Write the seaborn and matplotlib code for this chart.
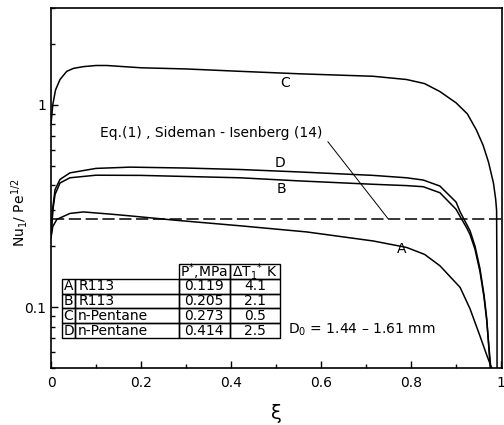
import matplotlib
matplotlib.use("Agg")
import matplotlib.pyplot as plt
import seaborn as sns
import pandas as pd
import numpy as np
from matplotlib.ticker import FixedLocator, LogLocator, NullFormatter, MultipleLocator

# ---------------- data ----------------
xi_A = [0.0, 0.004, 0.013, 0.042, 0.072, 0.138, 0.176, 0.272, 0.42, 0.568, 0.716, 0.79, 0.83, 0.864,
        0.909, 0.931, 0.953, 0.968, 0.979]
nu_A = [0.22, 0.25, 0.271, 0.29, 0.295, 0.287, 0.282, 0.269, 0.252, 0.235, 0.212, 0.197, 0.182, 0.16,
        0.125, 0.098, 0.072, 0.058, 0.05]

xi_B = [0.0, 0.004, 0.009, 0.02, 0.042, 0.1, 0.2, 0.42, 0.55, 0.716, 0.79, 0.827, 0.864, 0.9, 0.909,
        0.924, 0.931, 0.942, 0.953, 0.962, 0.968, 0.977]
nu_B = [0.22, 0.3, 0.36, 0.41, 0.435, 0.448, 0.447, 0.435, 0.42, 0.404, 0.398, 0.393, 0.367, 0.304, 0.28,
        0.245, 0.228, 0.193, 0.15, 0.112, 0.086, 0.05]

xi_C = [0.0, 0.004, 0.01, 0.02, 0.035, 0.05, 0.072, 0.1, 0.124, 0.2, 0.3, 0.42, 0.55, 0.716, 0.79, 0.83,
        0.864, 0.9, 0.925, 0.945, 0.96, 0.972, 0.983, 0.988, 0.990, 0.991, 0.991]
nu_C = [0.8, 1.0, 1.18, 1.33, 1.46, 1.51, 1.54, 1.56, 1.56, 1.52, 1.5, 1.46, 1.42, 1.38, 1.33, 1.27,
        1.16, 1.02, 0.90, 0.75, 0.63, 0.52, 0.41, 0.34, 0.30, 0.1, 0.05]

xi_D = [0.0, 0.004, 0.009, 0.02, 0.042, 0.1, 0.176, 0.3, 0.42, 0.55, 0.716, 0.79, 0.827, 0.864, 0.9,
        0.909, 0.924, 0.931, 0.942, 0.953, 0.962, 0.968, 0.976]
nu_D = [0.22, 0.31, 0.38, 0.427, 0.46, 0.484, 0.491, 0.486, 0.478, 0.465, 0.447, 0.435, 0.424, 0.396, 0.33,
        0.295, 0.255, 0.238, 0.2, 0.155, 0.115, 0.088, 0.05]

xi_eq = [0.003, 1.0]
nu_eq = [0.273, 0.273]

runs = ["A", "B", "C", "D"]
fluids = ["R113", "R113", "n-Pentane", "n-Pentane"]
pressures = ["0.119", "0.205", "0.273", "0.414"]
delta_T = ["4.1", "2.1", "0.5", "2.5"]

x_ticks = [0, 0.2, 0.4, 0.6, 0.8, 1.0]
x_tick_labels = ["0", "0.2", "0.4", "0.6", "0.8", "1"]
y_ticks = [0.1, 1]
y_tick_labels = ["0.1", "1"]

# ---------------- style ----------------
sns.set_theme(style="ticks")
plt.rcParams["font.family"] = ["DejaVu Sans"]
plt.rcParams["mathtext.fontset"] = "dejavusans"
plt.rcParams["text.color"] = "black"
plt.rcParams["axes.labelcolor"] = "black"
plt.rcParams["xtick.color"] = "black"
plt.rcParams["ytick.color"] = "black"

fig = plt.figure(figsize=(5.04, 4.25), dpi=100)
ax = fig.add_axes([51 / 504, 1 - 368 / 425, 451 / 504, 360 / 425])

frames = []
for name, xs, ys in [("A", xi_A, nu_A), ("B", xi_B, nu_B), ("C", xi_C, nu_C), ("D", xi_D, nu_D)]:
    frames.append(pd.DataFrame({"xi": xs, "nu": ys, "run": name}))
df = pd.concat(frames, ignore_index=True)

sns.lineplot(data=df, x="xi", y="nu", units="run", estimator=None, sort=False,
             color="black", linewidth=1.1, ax=ax, legend=False)

df_eq = pd.DataFrame({"xi": xi_eq, "nu": nu_eq})
sns.lineplot(data=df_eq, x="xi", y="nu", color="black", linewidth=1.1, ax=ax, legend=False)
ax.lines[-1].set_dashes([8, 3])

ax.set_yscale("log")
ax.set_xlim(0, 1.002)
ax.set_ylim(0.05, 3.0)

ax.yaxis.set_major_locator(FixedLocator(y_ticks))
ax.set_yticklabels(y_tick_labels)
ax.yaxis.set_minor_locator(LogLocator(base=10, subs=np.arange(2, 10)))
ax.yaxis.set_minor_formatter(NullFormatter())
ax.set_xticks(x_ticks)
ax.set_xticklabels(x_tick_labels)
ax.xaxis.set_minor_locator(MultipleLocator(0.1))

ax.tick_params(which="both", direction="in", color="black", labelsize=10, labelcolor="black")
ax.tick_params(which="major", length=5, width=1)
ax.tick_params(which="minor", length=3, width=1)
ax.tick_params(axis="x", pad=6)
for s in ax.spines.values():
    s.set_color("black")
    s.set_linewidth(1.2)

ax.set_xlabel("ξ", fontsize=14, labelpad=10, color="black")
ax.set_ylabel(r"Nu$_1$/ Pe$^{1/2}$", fontsize=10, color="black")
ax.yaxis.set_label_coords(-0.047, 0.43)

# curve labels
ax.text(0.52, 1.28, "C", fontsize=10, ha="center", va="center")
ax.text(0.509, 0.512, "D", fontsize=10, ha="center", va="center")
ax.text(0.513, 0.381, "B", fontsize=10, ha="center", va="center")
ax.text(0.78, 0.193, "A", fontsize=10, ha="center", va="center")

# equation annotation
ax.annotate("Eq.(1) , Sideman - Isenberg (14)", xy=(0.749, 0.273), xytext=(0.604, 0.728),
            fontsize=10, ha="right", va="center",
            arrowprops=dict(arrowstyle="-", color="black", lw=0.7, shrinkA=2, shrinkB=0,
                            relpos=(1.0, 0.3)))

# table
cell_text = [["", "", r"P$^{*}$,MPa", r"ΔT$_1$$^{*}$ K"]]
for r, f, p, t in zip(runs, fluids, pressures, delta_T):
    cell_text.append([r, f, p, t])
col_w = [13, 103, 51, 50]
tot = sum(col_w)
tb_left = (62 - 51) / 451
tb_right = (280 - 51) / 451
tb_top = (368 - 264) / 360
tb_bot = (368 - 338) / 360
table = ax.table(cellText=cell_text, colWidths=[w / tot * (tb_right - tb_left) for w in col_w],
                 bbox=[tb_left, tb_bot, tb_right - tb_left, tb_top - tb_bot], cellLoc="center")
table.auto_set_font_size(False)
table.set_fontsize(10)
for (r, c), cell in table.get_celld().items():
    cell.set_linewidth(1.0)
    cell.set_edgecolor("black")
    cell.set_facecolor("none")
    cell.PAD = 0.03
    cell.get_text().set_color("black")
    if r == 0 and c in (0, 1):
        cell.visible_edges = ""
    if c == 1 and r > 0:
        cell.get_text().set_ha("left")

ax.text((288 - 51) / 451, (368 - 330) / 360, r"D$_0$ = 1.44 – 1.61 mm", transform=ax.transAxes,
        fontsize=10, ha="left", va="center")

fig.savefig("out.png", dpi=100)
